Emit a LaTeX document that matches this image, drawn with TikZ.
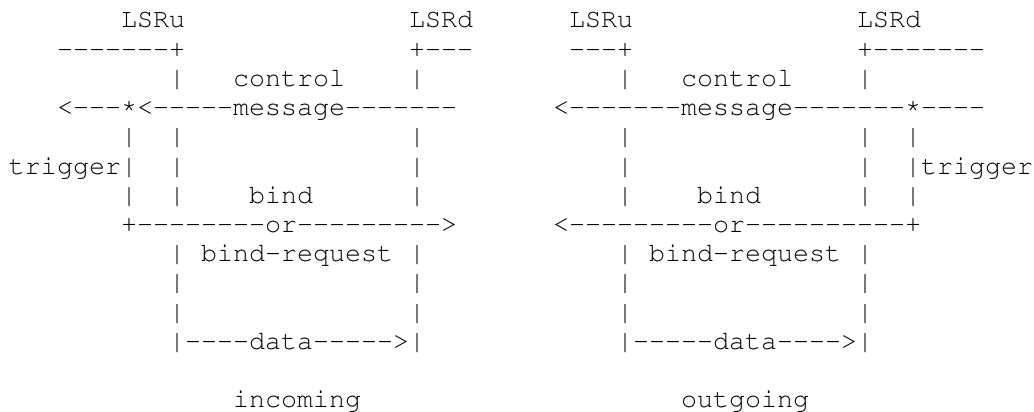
\documentclass[tikz,border=0pt]{standalone}
\usepackage[T1]{fontenc}
\newcommand\ascx[1]{\fpeval{9+16*(#1)}}
\newcommand\ascy[1]{\fpeval{28+29.2*(#1)}}
% \ch{name}{column}{row}{text}
\newcommand\ch[4]{\node[ascii] (#1) at (\ascx{#2},\ascy{#3}) {#4};}
% a run of n hyphens, without the -- ligature
\newcommand\dsh[1]{\foreach\k in {1,...,#1}{-}}
\newcommand\astk{\raisebox{0.12em}{*}}
\begin{document}
\begin{tikzpicture}[x=1pt,y=-1pt,
  ascii/.style={anchor=base west,inner sep=0pt,outer sep=0pt,
    font=\fontencoding{T1}\fontfamily{pcr}\fontsize{26.667pt}{29.2pt}\selectfont}]
\useasboundingbox (0,0) rectangle (1034,412);
% ---------- incoming ----------
\ch{inLSRu}{7}{0}{LSRu}
\ch{inLSRd}{25}{0}{LSRd}
\ch{inTopU}{3}{1}{\dsh{7}+}
\ch{inTopD}{25}{1}{+\dsh{3}}
\ch{inBarU2}{10}{2}{|}
\ch{inCtrl}{14}{2}{control}
\ch{inBarD2}{25}{2}{|}
\ch{inMsg}{3}{3}{<\dsh{3}\astk<\dsh{5}message\dsh{7}}
\ch{inT4}{7}{4}{|}
\ch{inU4}{10}{4}{|}
\ch{inD4}{25}{4}{|}
\ch{inTrig}{0}{5}{trigger|}
\ch{inU5}{10}{5}{|}
\ch{inD5}{25}{5}{|}
\ch{inT6}{7}{6}{|}
\ch{inU6}{10}{6}{|}
\ch{inBind}{15}{6}{bind}
\ch{inD6}{25}{6}{|}
\ch{inOr}{7}{7}{+\dsh{8}or\dsh{9}>}
\ch{inReq}{10}{8}{|}
\ch{inReqT}{12}{8}{bind-request}
\ch{inReqD}{25}{8}{|}
\ch{inU9}{10}{9}{|}
\ch{inD9}{25}{9}{|}
\ch{inU10}{10}{10}{|}
\ch{inD10}{25}{10}{|}
\ch{inData}{10}{11}{|\dsh{4}data\dsh{5}>|}
\ch{inCap}{14}{13}{incoming}
% ---------- outgoing ----------
\ch{outLSRu}{35}{0}{LSRu}
\ch{outLSRd}{53}{0}{LSRd}
\ch{outTopU}{35}{1}{\dsh{3}+}
\ch{outTopD}{53}{1}{+\dsh{7}}
\ch{outBarU2}{38}{2}{|}
\ch{outCtrl}{42}{2}{control}
\ch{outBarD2}{53}{2}{|}
\ch{outMsg}{34}{3}{<\dsh{7}message\dsh{7}\astk\dsh{4}}
\ch{outU4}{38}{4}{|}
\ch{outD4}{53}{4}{|}
\ch{outT4}{56}{4}{|}
\ch{outU5}{38}{5}{|}
\ch{outD5}{53}{5}{|}
\ch{outTrig}{56}{5}{|trigger}
\ch{outU6}{38}{6}{|}
\ch{outBind}{43}{6}{bind}
\ch{outD6}{53}{6}{|}
\ch{outT6}{56}{6}{|}
\ch{outOr}{34}{7}{<\dsh{9}or\dsh{10}+}
\ch{outReq}{38}{8}{|}
\ch{outReqT}{40}{8}{bind-request}
\ch{outReqD}{53}{8}{|}
\ch{outU9}{38}{9}{|}
\ch{outD9}{53}{9}{|}
\ch{outU10}{38}{10}{|}
\ch{outD10}{53}{10}{|}
\ch{outData}{38}{11}{|\dsh{5}data\dsh{4}>|}
\ch{outCap}{42}{13}{outgoing}
\end{tikzpicture}
\end{document}
